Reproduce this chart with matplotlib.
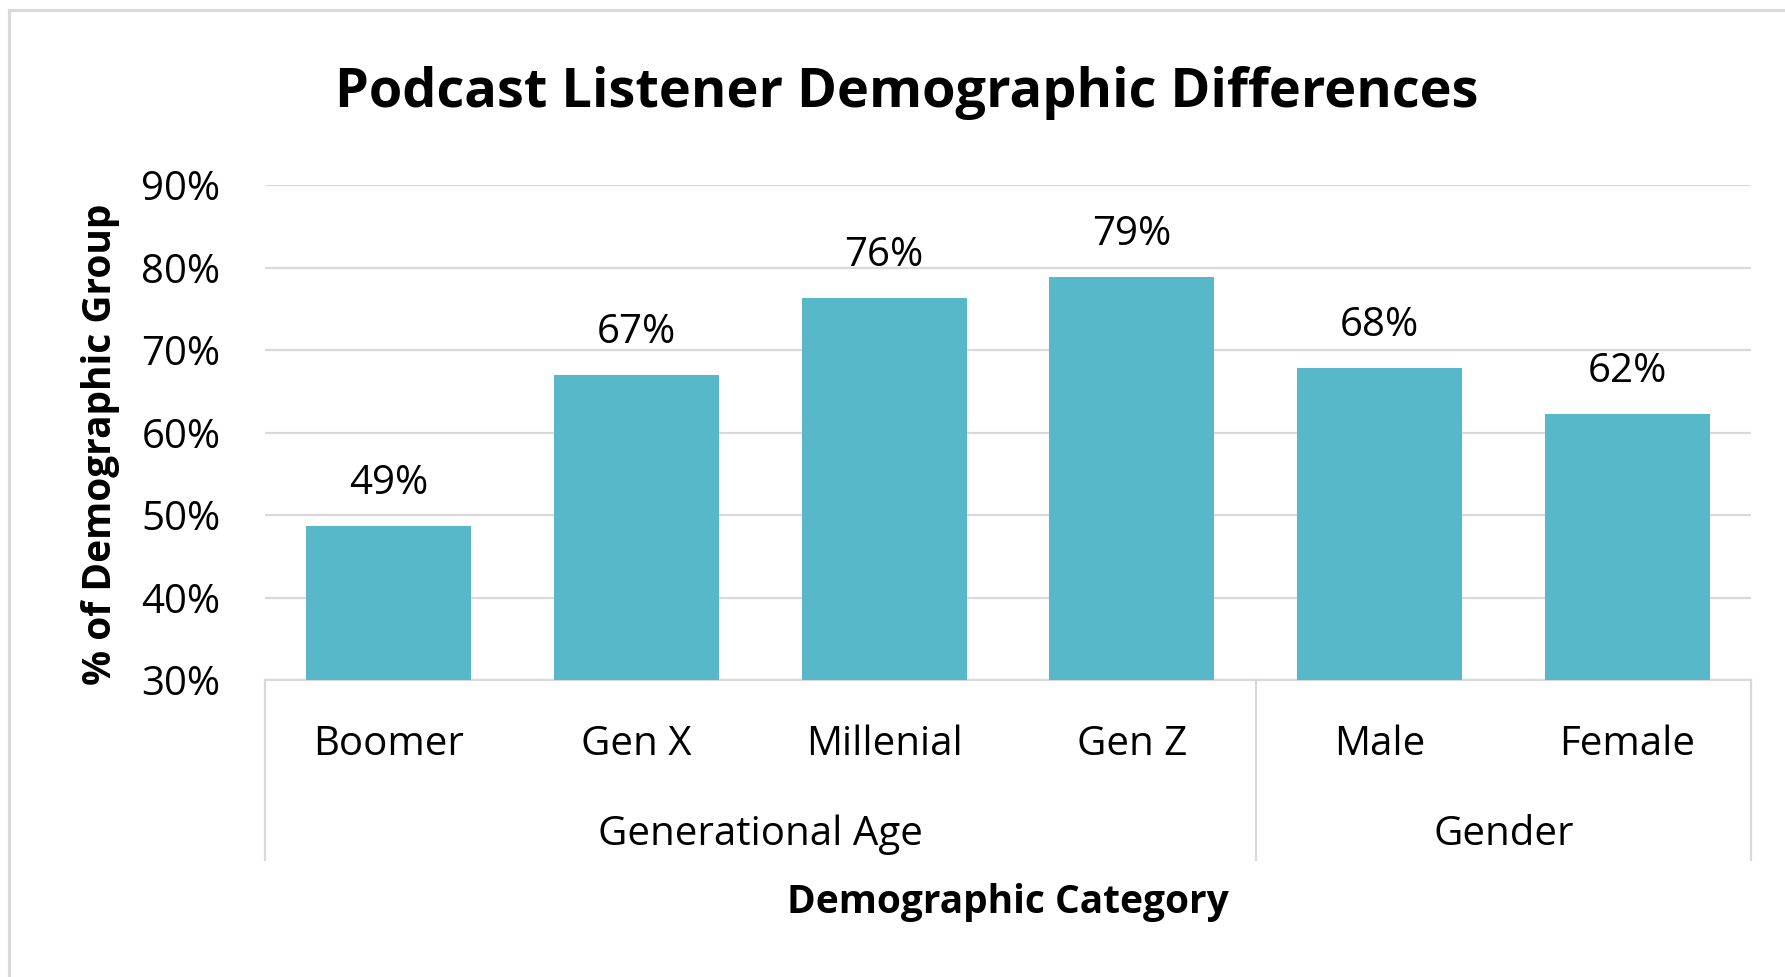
import matplotlib.pyplot as plt
from matplotlib.lines import Line2D

# data
categories = ['Boomer', 'Gen X', 'Millenial', 'Gen Z', 'Male', 'Female']
groups = ['Generational Age', 'Gender']
group_sizes = [4, 2]
values = [48.7, 67.0, 76.3, 78.9, 67.8, 62.3]
value_labels = ['49%', '67%', '76%', '79%', '68%', '62%']
yticks = [30, 40, 50, 60, 70, 80, 90]

BAR_COLOR = '#56B8C9'
GRID_COLOR = '#D9D9D9'
FONT = 'Open Sans'
FS = 29

plt.rcParams['font.family'] = [FONT, 'DejaVu Sans']

W, H = 1785, 977
fig = plt.figure(figsize=(W / 100, H / 100), dpi=100)

# plot area placed by pixel coordinates of the reference
left, right, top, bottom = 265, 1751, 185, 680
ax = fig.add_axes([left / W, 1 - bottom / H, (right - left) / W, (bottom - top) / H])

x = list(range(len(categories)))
ax.bar(x, [v - 30 for v in values], bottom=30, width=0.667, color=BAR_COLOR, zorder=3)

ax.set_xlim(-0.5, len(categories) - 0.5)
ax.set_ylim(30, 90)
ax.set_yticks(yticks)
ax.set_yticklabels([f'{t}%' for t in yticks], fontsize=FS)
ax.tick_params(axis='y', length=0, pad=32)
ax.set_xticks([])
ax.yaxis.grid(True, color=GRID_COLOR, linewidth=1.6, zorder=0)
for s in ['top', 'right', 'left']:
    ax.spines[s].set_visible(False)
ax.spines['bottom'].set_color(GRID_COLOR)
ax.spines['bottom'].set_linewidth(1.6)

for xi, v, lab in zip(x, values, value_labels):
    ax.annotate(lab, (xi, v), xytext=(0, 23), textcoords='offset points',
                ha='center', va='baseline', fontsize=FS)

# category labels and group labels under the axis
box_depth = (860 - bottom) / (bottom - top)
trans = ax.get_xaxis_transform()
for xi, c in zip(x, categories):
    ax.text(xi, -(745 - bottom) / (bottom - top), c, transform=trans,
            ha='center', va='center', fontsize=FS)

start = 0
edges = [-0.5]
for g, n in zip(groups, group_sizes):
    mid = start + (n - 1) / 2
    ax.text(mid, -(835 - bottom) / (bottom - top), g, transform=trans,
            ha='center', va='center', fontsize=FS)
    start += n
    edges.append(start - 0.5)
for e in edges:
    ax.add_line(Line2D([e, e], [0, -box_depth], transform=trans, color=GRID_COLOR,
                       linewidth=1.6, clip_on=False))

fig.text(907 / W, 1 - 93 / H, 'Podcast Listener Demographic Differences',
         ha='center', va='center', fontsize=39, fontweight='bold')
fig.text(100 / W, 1 - 444 / H, '% of Demographic Group', rotation=90,
         ha='center', va='center', fontsize=28, fontweight='bold')
fig.text(1008 / W, 1 - 902 / H, 'Demographic Category',
         ha='center', va='center', fontsize=28, fontweight='bold')

# outer chart frame (only top and left edges are inside the picture)
fig.add_artist(Line2D([9 / W, 9 / W], [0, 1 - 10 / H], transform=fig.transFigure,
                      color=GRID_COLOR, linewidth=2.2))
fig.add_artist(Line2D([9 / W, 1], [1 - 10 / H, 1 - 10 / H], transform=fig.transFigure,
                      color=GRID_COLOR, linewidth=2.2))

fig.savefig('out.png', dpi=100, facecolor='white')
